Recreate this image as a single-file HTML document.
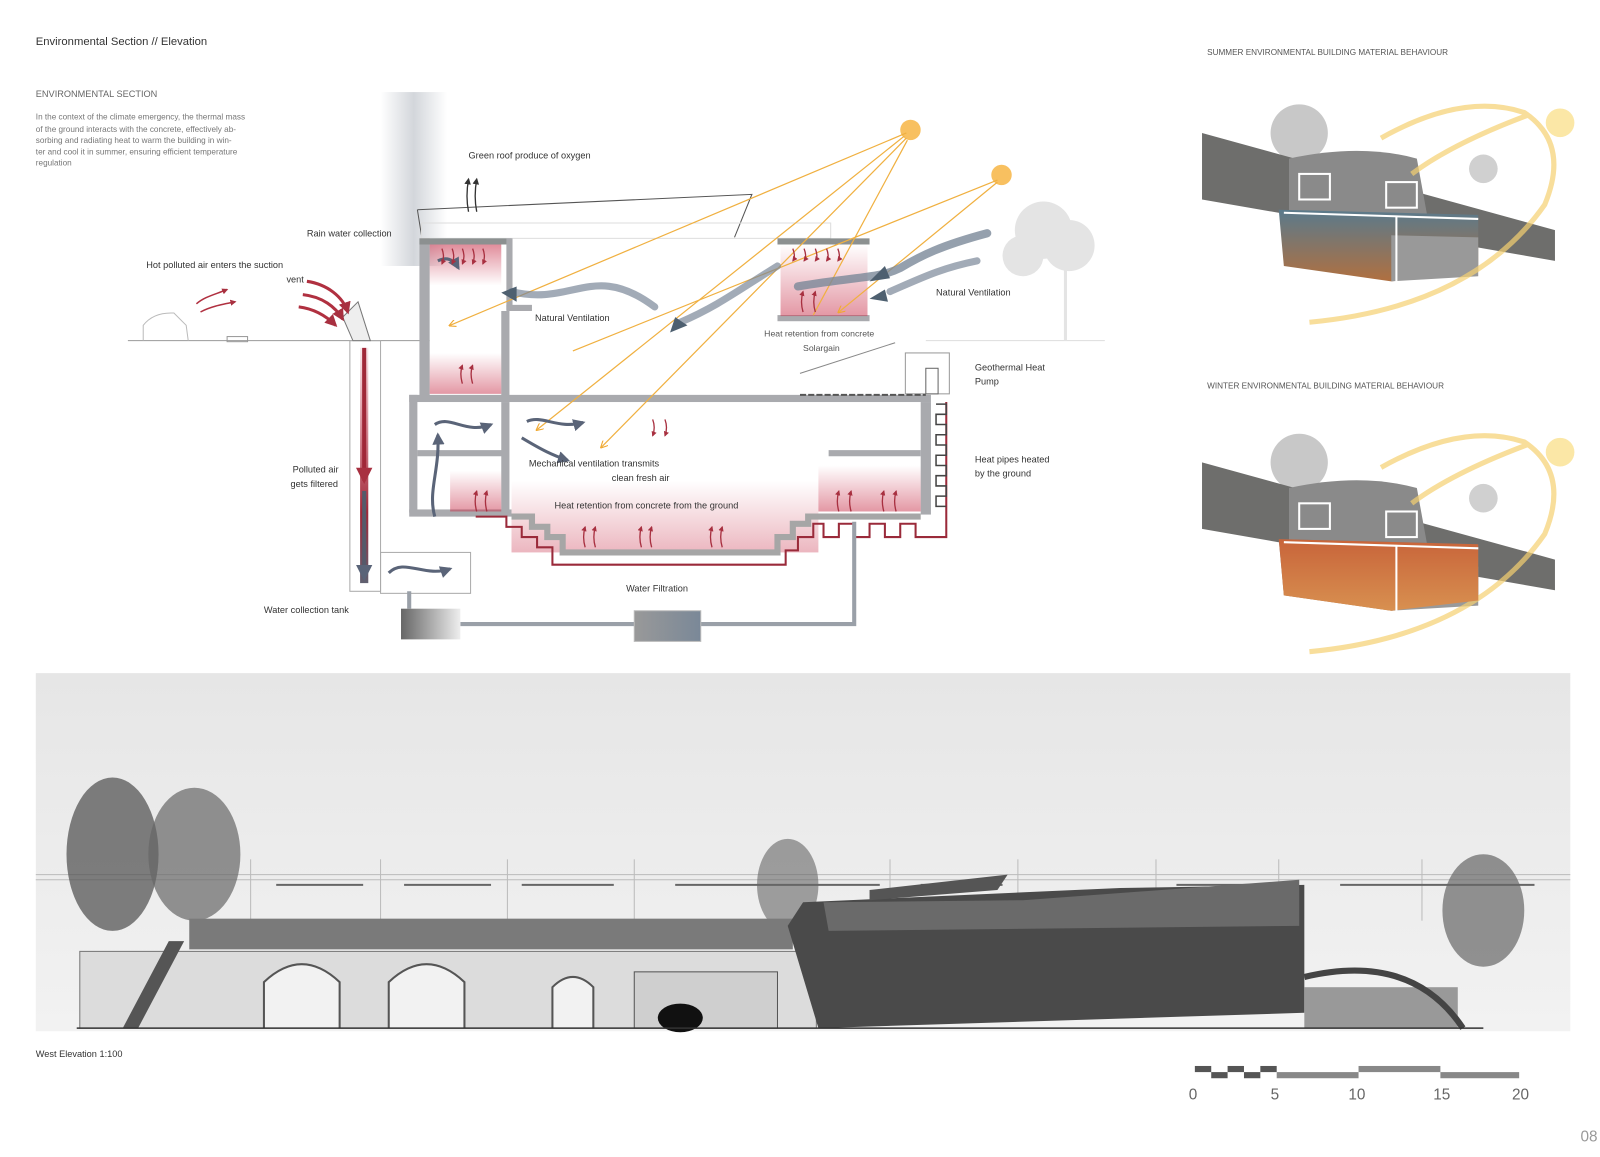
<!DOCTYPE html>
<html><head><meta charset="utf-8"><style>
html,body{margin:0;padding:0;background:#fff;}
svg{display:block;font-family:"Liberation Sans",sans-serif;}
</style></head><body>
<svg width="1600" height="1157" viewBox="0 0 1600 1157" xmlns="http://www.w3.org/2000/svg">
<defs>
<linearGradient id="red" x1="0" y1="0" x2="0" y2="1"><stop offset="0" stop-color="#c8304a" stop-opacity="0.55"/><stop offset="1" stop-color="#c8304a" stop-opacity="0"/></linearGradient>
<linearGradient id="redup" x1="0" y1="1" x2="0" y2="0"><stop offset="0" stop-color="#c8304a" stop-opacity="0.5"/><stop offset="1" stop-color="#c8304a" stop-opacity="0"/></linearGradient>
<linearGradient id="pipe" x1="0" y1="0" x2="0" y2="1"><stop offset="0" stop-color="#c02840" stop-opacity="0.1"/><stop offset="0.7" stop-color="#a02838"/><stop offset="1" stop-color="#606070"/></linearGradient>
<linearGradient id="tank" x1="0" y1="0" x2="1" y2="0"><stop offset="0" stop-color="#666"/><stop offset="1" stop-color="#eee"/></linearGradient>
<linearGradient id="tank2" x1="0" y1="0" x2="1" y2="0"><stop offset="0" stop-color="#999"/><stop offset="1" stop-color="#7a8898"/></linearGradient>
<linearGradient id="elev" x1="0" y1="0" x2="0" y2="1"><stop offset="0" stop-color="#e6e6e6"/><stop offset="1" stop-color="#f2f2f2"/></linearGradient>
<linearGradient id="cloud" x1="0" y1="0" x2="1" y2="0"><stop offset="0" stop-color="#fff"/><stop offset="0.5" stop-color="#c8ccd2"/><stop offset="1" stop-color="#fff"/></linearGradient>
<linearGradient id="sumblk" x1="0" y1="0" x2="0" y2="1"><stop offset="0" stop-color="#5a7a8c"/><stop offset="1" stop-color="#b07040"/></linearGradient>
<linearGradient id="winblk" x1="0" y1="0" x2="0" y2="1"><stop offset="0" stop-color="#c8643a"/><stop offset="1" stop-color="#d89050"/></linearGradient>
<marker id="ab" viewBox="0 0 10 10" refX="8" refY="5" markerWidth="4" markerHeight="4" orient="auto"><path d="M0,0L10,5L0,10z" fill="#5a6478"/></marker>
<marker id="ar" viewBox="0 0 10 10" refX="8" refY="5" markerWidth="4" markerHeight="4" orient="auto"><path d="M0,0L10,5L0,10z" fill="#a83040"/></marker>
<marker id="ay" viewBox="0 0 10 10" refX="8" refY="5" markerWidth="6" markerHeight="6" orient="auto"><path d="M0,0L10,5L0,10" fill="none" stroke="#f0a830" stroke-width="1.5"/></marker>
<marker id="ak" viewBox="0 0 10 10" refX="8" refY="5" markerWidth="5" markerHeight="5" orient="auto"><path d="M0,0L10,5L0,10z" fill="#333"/></marker>
</defs>
<g transform="scale(1.023)">
<text x="35" y="44" font-size="11" fill="#333">Environmental Section // Elevation</text>
<text x="35" y="95" font-size="9" fill="#666">ENVIRONMENTAL SECTION</text>
<g font-size="8" fill="#777">
<text x="35" y="117">In the context of the climate emergency, the thermal mass</text>
<text x="35" y="129">of the ground interacts with the concrete, effectively ab-</text>
<text x="35" y="140">sorbing and radiating heat to warm the building in win-</text>
<text x="35" y="151">ter and cool it in summer, ensuring efficient temperature</text>
<text x="35" y="162">regulation</text>
</g>
<rect x="372" y="90" width="65" height="170" fill="url(#cloud)" opacity="0.8"/>
<line x1="125" y1="333" x2="420" y2="333" stroke="#999" stroke-width="1"/>
<line x1="905" y1="333" x2="1080" y2="333" stroke="#ddd" stroke-width="1"/>
<path d="M140,333 L140,318 Q150,305 170,306 L182,318 L184,333" fill="none" stroke="#bbb"/>
<rect x="222" y="329" width="20" height="5" fill="none" stroke="#999"/>
<g fill="#e4e4e4"><circle cx="1020" cy="225" r="28"/><circle cx="1045" cy="240" r="25"/><circle cx="1000" cy="250" r="20"/><rect x="1040" y="255" width="3" height="78"/></g>
<path d="M408,205 L735,190 L718,232 M408,205 L412,230" fill="none" stroke="#555" stroke-width="1"/>
<rect x="412" y="218" width="400" height="15" fill="none" stroke="#ddd"/>
<g fill="#a9aaae">
<rect x="410" y="233" width="10" height="155"/>
<rect x="410" y="233" width="90" height="6" fill="#8c9090"/>
<rect x="495" y="233" width="6" height="70"/>
<rect x="495" y="298" width="25" height="6"/>
<rect x="490" y="304" width="8" height="85"/>
<rect x="400" y="386" width="510" height="7"/>
<rect x="400" y="386" width="8" height="115"/>
<rect x="490" y="393" width="8" height="110"/>
<rect x="408" y="440" width="85" height="6"/>
<rect x="400" y="498" width="100" height="7"/>
<rect x="900" y="393" width="10" height="110"/>
<rect x="810" y="440" width="90" height="6"/>
<rect x="760" y="233" width="90" height="6" fill="#8c9090"/>
<rect x="760" y="308" width="90" height="6"/>
</g>
<rect x="420" y="239" width="70" height="40" fill="url(#red)"/>
<rect x="763" y="239" width="85" height="70" fill="url(#redup)"/>
<rect x="420" y="345" width="70" height="40" fill="url(#redup)"/>
<rect x="440" y="460" width="50" height="40" fill="url(#redup)"/>
<rect x="800" y="455" width="100" height="45" fill="url(#redup)"/>
<rect x="500" y="470" width="300" height="70" fill="url(#redup)" opacity="0.7"/>
<path d="M500,505 L520,505 L520,515 L535,515 L535,525 L550,525 L550,540 L760,540 L760,525 L775,525 L775,512 L790,512 L790,505 L900,505" fill="none" stroke="#a6a6a6" stroke-width="6"/>
<path d="M465,505 L495,505 L495,515 L510,515 L510,525 L525,525 L525,535 L540,535 L540,552 L768,552 L768,538 L780,538 L780,525 L795,525 L795,512 L805,512 L805,525 L820,525 L820,512 L835,512 L835,525 L850,525 L850,512 L865,512 L865,525 L880,525 L880,512 L895,512 L895,525 L925,525 L925,393" fill="none" stroke="#9a2a3a" stroke-width="2"/>
<path d="M915,395 L925,395 L925,405 L915,405 L915,415 L925,415 L925,425 L915,425 L915,435 L925,435 L925,445 L915,445 L915,455 L925,455 L925,465 L915,465 L915,475 L925,475 L925,485 L915,485 L915,495 L925,495" fill="none" stroke="#444" stroke-width="1.5"/>
<rect x="885" y="345" width="43" height="40" fill="none" stroke="#999"/>
<rect x="905" y="360" width="12" height="25" fill="#fff" stroke="#666"/>
<path d="M782,386 L905,386" stroke="#555" stroke-width="2" stroke-dasharray="6,2"/>
<path d="M782,365 L875,335" stroke="#888"/>
<rect x="342" y="333" width="30" height="245" fill="none" stroke="#aaa"/>
<rect x="352" y="340" width="8" height="230" fill="url(#pipe)"/>
<path d="M356,340 V470" stroke="#a02838" stroke-width="4" marker-end="url(#ar)"/>
<path d="M356,480 V565" stroke="#555a6a" stroke-width="4" marker-end="url(#ab)"/>
<path d="M335,310 L350,295 L362,333 L345,333z" fill="#eee" stroke="#777"/>
<rect x="372" y="540" width="88" height="40" fill="none" stroke="#aaa"/>
<path d="M400,578 V595 M450,610 H620 M685,610 H835 V510" fill="none" stroke="#9aa0a8" stroke-width="4"/>
<rect x="392" y="595" width="58" height="30" fill="url(#tank)"/>
<rect x="620" y="597" width="65" height="30" fill="url(#tank2)" stroke="#bbb"/>
<circle cx="890" cy="127" r="10" fill="#f8c060"/>
<circle cx="979" cy="171" r="10" fill="#f8c060"/>
<g stroke="#f0b040" stroke-width="1.2" fill="none">
<line x1="886" y1="130" x2="440" y2="318" marker-end="url(#ay)"/>
<line x1="884" y1="133" x2="525" y2="420" marker-end="url(#ay)"/>
<line x1="886" y1="135" x2="588" y2="437" marker-end="url(#ay)"/>
<line x1="887" y1="137" x2="795" y2="308"/>
<line x1="975" y1="176" x2="560" y2="343"/>
<line x1="975" y1="178" x2="820" y2="305" marker-end="url(#ay)"/>
</g>
<g fill="none" stroke-linecap="round">
<path d="M965,228 C920,240 900,250 880,262 C860,272 840,270 780,280" stroke="#7a8898" stroke-width="8" opacity="0.8"/>
<path d="M955,255 C920,262 900,272 870,285" stroke="#7a8898" stroke-width="7" opacity="0.7"/>
<path d="M640,300 C580,255 560,300 500,285" stroke="#7a8898" stroke-width="7" opacity="0.7"/>
<path d="M760,260 C720,285 700,300 665,315" stroke="#7a8898" stroke-width="7" opacity="0.7"/>
</g>
<path d="M505,280 L490,286 L505,295z" fill="#4e6070"/>
<path d="M660,310 L655,325 L672,318z" fill="#4e6070"/>
<path d="M865,260 L850,275 L870,272z" fill="#4e6070"/>
<path d="M865,283 L850,292 L868,295z" fill="#4e6070"/>
<g fill="none" stroke="#5a6478" stroke-width="3" marker-end="url(#ab)">
<path d="M425,415 C440,405 455,425 480,415"/>
<path d="M515,412 C530,405 545,420 570,413"/>
<path d="M510,428 C530,440 540,445 555,450"/>
<path d="M425,505 C418,480 430,460 428,425"/>
<path d="M380,560 C395,545 415,565 440,556"/>
<path d="M428,255 C438,250 444,255 448,262"/>
</g>
<g fill="none" stroke="#a83040" stroke-width="1.3">
<path d="M432,243 q3,8 0,15" marker-end="url(#ar)"/><path d="M442,243 q3,8 0,15" marker-end="url(#ar)"/><path d="M452,243 q3,8 0,15" marker-end="url(#ar)"/><path d="M462,243 q3,8 0,15" marker-end="url(#ar)"/><path d="M472,243 q3,8 0,15" marker-end="url(#ar)"/>
<path d="M775,243 q3,8 0,12" marker-end="url(#ar)"/><path d="M786,243 q3,8 0,12" marker-end="url(#ar)"/><path d="M797,243 q3,8 0,12" marker-end="url(#ar)"/><path d="M808,243 q3,8 0,12" marker-end="url(#ar)"/><path d="M819,243 q3,8 0,12" marker-end="url(#ar)"/>
<path d="M785,305 q-3,-10 0,-20" marker-end="url(#ar)"/><path d="M797,305 q-3,-10 0,-20" marker-end="url(#ar)"/>
<path d="M452,375 q-3,-10 0,-18" marker-end="url(#ar)"/><path d="M462,375 q-3,-10 0,-18" marker-end="url(#ar)"/>
<path d="M466,500 q-3,-10 0,-20" marker-end="url(#ar)"/><path d="M476,500 q-3,-10 0,-20" marker-end="url(#ar)"/>
<path d="M638,410 q3,8 0,16" marker-end="url(#ar)"/><path d="M650,410 q3,8 0,16" marker-end="url(#ar)"/>
<path d="M572,535 q-3,-10 0,-20" marker-end="url(#ar)"/><path d="M582,535 q-3,-10 0,-20" marker-end="url(#ar)"/>
<path d="M627,535 q-3,-10 0,-20" marker-end="url(#ar)"/><path d="M637,535 q-3,-10 0,-20" marker-end="url(#ar)"/>
<path d="M696,535 q-3,-10 0,-20" marker-end="url(#ar)"/><path d="M706,535 q-3,-10 0,-20" marker-end="url(#ar)"/>
<path d="M820,500 q-3,-10 0,-20" marker-end="url(#ar)"/><path d="M832,500 q-3,-10 0,-20" marker-end="url(#ar)"/><path d="M864,500 q-3,-10 0,-20" marker-end="url(#ar)"/><path d="M876,500 q-3,-10 0,-20" marker-end="url(#ar)"/>
</g>
<g fill="none" stroke="#b03040" stroke-width="3">
<path d="M300,275 C320,278 335,290 340,305" marker-end="url(#ar)"/>
<path d="M296,288 C315,290 328,300 335,312" marker-end="url(#ar)"/>
<path d="M292,300 C308,302 320,310 328,318" marker-end="url(#ar)"/>
</g>
<g fill="none" stroke="#b03040" stroke-width="1.5">
<path d="M192,297 C200,290 210,288 222,283" marker-end="url(#ar)"/>
<path d="M196,305 C205,300 215,298 230,295" marker-end="url(#ar)"/>
</g>
<g fill="none" stroke="#333" stroke-width="1.3">
<path d="M458,207 q-3,-15 0,-32" marker-end="url(#ak)"/><path d="M466,207 q-3,-15 0,-32" marker-end="url(#ak)"/>
</g>
<g font-size="9" fill="#333">
<text x="458" y="155">Green roof produce of oxygen</text>
<text x="300" y="231">Rain water collection</text>
<text x="143" y="262">Hot polluted air enters the suction</text>
<text x="280" y="276">vent</text>
<text x="523" y="314">Natural Ventilation</text>
<text x="915" y="289">Natural Ventilation</text>
<text x="953" y="362">Geothermal Heat</text>
<text x="953" y="376">Pump</text>
<text x="953" y="452">Heat pipes heated</text>
<text x="953" y="466">by the ground</text>
<text x="286" y="462">Polluted air</text>
<text x="284" y="476">gets filtered</text>
<text x="517" y="456">Mechanical ventilation transmits</text>
<text x="598" y="470">clean fresh air</text>
<text x="542" y="497">Heat retention from concrete from the ground</text>
<text x="612" y="578">Water Filtration</text>
<text x="258" y="599">Water collection tank</text>
</g>
<g font-size="8.5" fill="#555"><text x="747" y="329">Heat retention from concrete</text><text x="785" y="343">Solargain</text></g>
<text x="1180" y="54" font-size="8" fill="#555">SUMMER ENVIRONMENTAL BUILDING MATERIAL BEHAVIOUR</text>
<text x="1180" y="380" font-size="8" fill="#555">WINTER ENVIRONMENTAL BUILDING MATERIAL BEHAVIOUR</text>
<g id="sum">
<circle cx="1270" cy="130" r="28" fill="#c8c8c8"/>
<circle cx="1450" cy="165" r="14" fill="#d0d0d0"/>
<path d="M1175,130 L1520,225 L1520,255 L1175,195z" fill="#6e6e6c"/>
<path d="M1260,155 Q1330,140 1385,155 L1395,210 L1260,210z" fill="#8a8a8a"/>
<path d="M1250,205 L1445,210 L1445,265 L1360,275 L1255,260z" fill="url(#sumblk)"/>
<path d="M1360,230 L1445,232 L1445,270 L1360,275z" fill="#999"/>
<g fill="none" stroke="#fff" stroke-width="2"><rect x="1270" y="170" width="30" height="25"/><rect x="1355" y="178" width="30" height="25"/><line x1="1255" y1="208" x2="1445" y2="214"/><line x1="1365" y1="212" x2="1365" y2="275"/></g>
<path d="M1280,315 Q1440,300 1510,200 Q1535,140 1490,110 Q1430,90 1350,135 M1495,112 Q1420,140 1380,170" fill="none" stroke="#f5d070" stroke-width="5" opacity="0.7"/>
<circle cx="1525" cy="120" r="14" fill="#fbe7a6"/>
</g>
<use href="#sum" transform="translate(0,322)"/>
<path d="M1250,527 L1445,532 L1445,587 L1360,597 L1255,582z" fill="url(#winblk)"/>
<g fill="none" stroke="#fff" stroke-width="2"><line x1="1255" y1="530" x2="1445" y2="536"/><line x1="1365" y1="534" x2="1365" y2="597"/></g>
<rect x="35" y="658" width="1500" height="350" fill="url(#elev)"/>
<g stroke="#bbb" stroke-width="1" fill="none">
<line x1="35" y1="855" x2="1535" y2="855"/><line x1="35" y1="860" x2="1535" y2="860"/>
<line x1="245" y1="840" x2="245" y2="900"/><line x1="372" y1="840" x2="372" y2="900"/><line x1="496" y1="840" x2="496" y2="900"/><line x1="620" y1="840" x2="620" y2="900"/><line x1="870" y1="840" x2="870" y2="900"/><line x1="995" y1="840" x2="995" y2="900"/><line x1="1130" y1="840" x2="1130" y2="900"/><line x1="1250" y1="840" x2="1250" y2="900"/><line x1="1390" y1="840" x2="1390" y2="900"/>
</g>
<g stroke="#666" stroke-width="2"><line x1="270" y1="865" x2="355" y2="865"/><line x1="395" y1="865" x2="480" y2="865"/><line x1="510" y1="865" x2="600" y2="865"/><line x1="660" y1="865" x2="860" y2="865"/><line x1="900" y1="865" x2="980" y2="865"/><line x1="1150" y1="865" x2="1240" y2="865"/><line x1="1310" y1="865" x2="1500" y2="865"/></g>
<ellipse cx="110" cy="835" rx="45" ry="75" fill="#555" opacity="0.75"/>
<ellipse cx="190" cy="835" rx="45" ry="65" fill="#666" opacity="0.7"/>
<ellipse cx="1450" cy="890" rx="40" ry="55" fill="#666" opacity="0.7"/>
<ellipse cx="770" cy="865" rx="30" ry="45" fill="#666" opacity="0.6"/>
<rect x="185" y="898" width="590" height="30" fill="#7a7a7a"/>
<rect x="78" y="930" width="720" height="75" fill="#dcdcdc" stroke="#777"/>
<g fill="#f2f2f2" stroke="#555" stroke-width="2">
<path d="M258,1005 V960 Q295,925 332,960 V1005"/>
<path d="M380,1005 V960 Q417,925 454,960 V1005"/>
<path d="M540,1005 V965 Q560,945 580,965 V1005"/>
</g>
<rect x="620" y="950" width="140" height="55" fill="#cfcfcf" stroke="#555"/>
<ellipse cx="665" cy="995" rx="22" ry="14" fill="#111"/>
<path d="M120,1005 L165,920 L180,920 L135,1005z" fill="#555"/>
<path d="M770,905 L785,882 L940,875 L1095,868 L1275,865 L1275,990 L800,1005z" fill="#4a4a4a"/>
<path d="M805,882 L1000,880 L1270,860 L1270,905 L810,910z" fill="#6a6a6a"/>
<path d="M850,880 L975,870 L985,855 L850,870z" fill="#555"/>
<rect x="1275" y="965" width="150" height="40" fill="#999"/>
<path d="M1275,955 Q1380,930 1430,1005" fill="none" stroke="#444" stroke-width="6"/>
<line x1="75" y1="1005" x2="1450" y2="1005" stroke="#333" stroke-width="1.5"/>
<text x="35" y="1033" font-size="9" fill="#333">West Elevation 1:100</text>
<g fill="#555">
<rect x="1168" y="1042" width="16" height="6"/><rect x="1184" y="1048" width="16" height="6"/><rect x="1200" y="1042" width="16" height="6"/><rect x="1216" y="1048" width="16" height="6"/><rect x="1232" y="1042" width="16" height="6"/>
<rect x="1248" y="1048" width="80" height="6" fill="#888"/><rect x="1328" y="1042" width="80" height="6" fill="#888"/><rect x="1408" y="1048" width="77" height="6" fill="#888"/>
</g>
<g font-size="15" fill="#666"><text x="1162" y="1075">0</text><text x="1242" y="1075">5</text><text x="1318" y="1075">10</text><text x="1401" y="1075">15</text><text x="1478" y="1075">20</text></g>
<text x="1545" y="1116" font-size="15" fill="#999">08</text>
</g>
</svg>
</body></html>
